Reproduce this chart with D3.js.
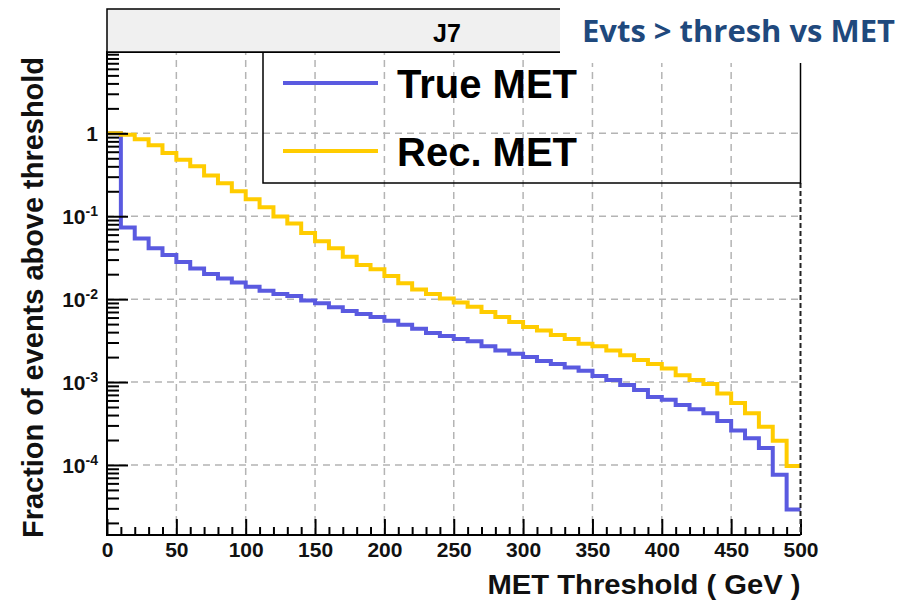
<!DOCTYPE html>
<html>
<head>
<meta charset="utf-8">
<script src="https://cdn.jsdelivr.net/npm/d3@7/dist/d3.min.js"></script>
<style>
  body { margin: 0; background: #fff; }
  svg text { font-family: "Liberation Sans", Arial, Helvetica, sans-serif; font-weight: bold; }
</style>
</head>
<body>
<svg id="chart" width="901" height="600"></svg>
<script>
// Lower edges of the 10 GeV threshold bins
const binLow = [0, 10, 20, 30, 40, 50, 60, 70, 80, 90,
  100, 110, 120, 130, 140, 150, 160, 170, 180, 190,
  200, 210, 220, 230, 240, 250, 260, 270, 280, 290,
  300, 310, 320, 330, 340, 350, 360, 370, 380, 390,
  400, 410, 420, 430, 440, 450, 460, 470, 480, 490];
const binHigh = 500;

// Fraction of events above threshold, true MET
const trueMet = [1.0, 0.073, 0.054, 0.041, 0.034, 0.028, 0.0235, 0.0201, 0.0178, 0.0159,
  0.0141, 0.0126, 0.0115, 0.0109, 0.0096, 0.0089, 0.0080, 0.0072, 0.0066, 0.0061,
  0.0055, 0.0049, 0.0044, 0.0039, 0.0036, 0.0033, 0.0031, 0.0027, 0.0024, 0.0022,
  0.0020, 0.0018, 0.00165, 0.0015, 0.00137, 0.00118, 0.00106, 0.00092, 0.00080, 0.00066,
  0.00061, 0.00053, 0.00047, 0.00042, 0.00034, 0.00026, 0.00021, 0.00016, 0.000076, 0.000029];

// Fraction of events above threshold, reconstructed MET
const recMet = [1.0, 0.96, 0.85, 0.72, 0.58, 0.48, 0.40, 0.31, 0.25, 0.20,
  0.16, 0.128, 0.099, 0.082, 0.063, 0.050, 0.041, 0.0325, 0.0258, 0.0229,
  0.019, 0.0155, 0.0131, 0.0115, 0.0102, 0.0091, 0.0081, 0.0070, 0.0061, 0.0053,
  0.0046, 0.0042, 0.0037, 0.0033, 0.0029, 0.0027, 0.0024, 0.0021, 0.00184, 0.00165,
  0.00146, 0.00121, 0.00106, 0.00095, 0.00073, 0.00056, 0.00042, 0.00029, 0.000196, 0.000097];

const seriesNames = ["True MET", "Rec. MET"];
const xMajorTicks = [0, 50, 100, 150, 200, 250, 300, 350, 400, 450, 500];
const yMajorTicks = [1, 0.1, 0.01, 0.001, 0.0001];
const yTickExponents = ["0", "-1", "-2", "-3", "-4"];
const xTitle = "MET Threshold ( GeV )";
const yTitle = "Fraction of events above threshold";
const padTitle = "J7";
const slideTitle = "Evts > thresh vs MET";

const colors = { trueMet: "#5a5ae0", recMet: "#ffcc00" };

const frame = { left: 107, right: 800.5, top: 52, bottom: 535 };
const svg = d3.select("#chart");

const x = d3.scaleLinear().domain([0, 500]).range([frame.left, frame.right]);
const y = d3.scaleLog().domain([1.43e-5, 9.57]).range([frame.bottom, frame.top]);

svg.append("rect").attr("width", 901).attr("height", 600).attr("fill", "#fff");

// Dashed grid
const grid = svg.append("g").attr("stroke", "#b4b4b4").attr("stroke-width", 1.5)
  .attr("stroke-dasharray", "7,5").attr("fill", "none");
grid.selectAll("line.v").data(xMajorTicks.filter(d => d > 0 && d < 500)).join("line")
  .attr("x1", d => x(d)).attr("x2", d => x(d))
  .attr("y1", frame.bottom).attr("y2", frame.top);
grid.selectAll("line.h").data(yMajorTicks).join("line")
  .attr("y1", d => y(d)).attr("y2", d => y(d))
  .attr("x1", frame.left).attr("x2", frame.right);

// Step histograms
const stepLine = d3.line().x(d => x(d[0])).y(d => y(d[1])).curve(d3.curveStepAfter);
function stepPoints(vals) {
  const pts = binLow.map((b, i) => [b, vals[i]]);
  pts.push([binHigh, vals[vals.length - 1]]);
  return pts;
}
svg.append("path").datum(stepPoints(trueMet)).attr("d", stepLine)
  .attr("fill", "none").attr("stroke", colors.trueMet).attr("stroke-width", 4);
svg.append("path").datum(stepPoints(recMet)).attr("d", stepLine)
  .attr("fill", "none").attr("stroke", colors.recMet).attr("stroke-width", 4);

// X axis: major and minor ticks pointing into the frame
const xAxisG = svg.append("g").attr("transform", `translate(0,${frame.bottom})`);
xAxisG.call(d3.axisBottom(x).tickValues(xMajorTicks).tickSize(-16).tickPadding(7)
  .tickFormat(d3.format("d")));
const xMinor = svg.append("g").attr("transform", `translate(0,${frame.bottom})`);
xMinor.call(d3.axisBottom(x).tickValues(binLow.filter(d => d % 50 !== 0)).tickSize(-8).tickFormat(""));
[xAxisG, xMinor].forEach(g => {
  g.select(".domain").remove();
  g.selectAll("line").attr("stroke", "#000").attr("stroke-width", 2);
});
xAxisG.selectAll("text").style("font-size", "21px").attr("fill", "#111");

// Y axis (log): decades and minor ticks
const yAxisG = svg.append("g").attr("transform", `translate(${frame.left},0)`);
yAxisG.call(d3.axisLeft(y).tickValues(yMajorTicks).tickSize(-21).tickPadding(9).tickFormat(""));
const yMinorVals = y.ticks().filter(d => Math.abs(Math.log10(d) - Math.round(Math.log10(d))) > 1e-6);
const yMinor = svg.append("g").attr("transform", `translate(${frame.left},0)`);
yMinor.call(d3.axisLeft(y).tickValues(yMinorVals).tickSize(-12).tickFormat(""));
[yAxisG, yMinor].forEach(g => {
  g.select(".domain").remove();
  g.selectAll("line").attr("stroke", "#000").attr("stroke-width", 2);
});
yAxisG.selectAll(".tick text").each(function (d, i) {
  const t = d3.select(this).style("font-size", "21px").attr("fill", "#111").attr("dy", "0.36em");
  if (yTickExponents[i] === "0") {
    t.text("1");
  } else {
    t.text("");
    t.append("tspan").text("10");
    t.append("tspan").style("font-size", "14px").attr("dy", -8.5).text(yTickExponents[i]);
  }
});

// Frame: solid left, bottom and top edges, dashed right edge
svg.append("path")
  .attr("d", `M${frame.right},${frame.top}H${frame.left}V${frame.bottom}H${frame.right}`)
  .attr("fill", "none").attr("stroke", "#000").attr("stroke-width", 2);
svg.append("line").attr("x1", frame.right).attr("x2", frame.right)
  .attr("y1", 183).attr("y2", frame.bottom)
  .attr("stroke", "#222").attr("stroke-width", 2).attr("stroke-dasharray", "5,3");

// Legend
const legend = svg.append("g");
legend.append("rect").attr("x", 263).attr("y", frame.top).attr("width", frame.right - 263).attr("height", 131)
  .attr("fill", "none").attr("stroke", "#000").attr("stroke-width", 1.5);
const legendRows = [
  { name: seriesNames[0], color: colors.trueMet, cy: 83 },
  { name: seriesNames[1], color: colors.recMet, cy: 151 }
];
legendRows.forEach(r => {
  legend.append("line").attr("x1", 283).attr("x2", 378).attr("y1", r.cy).attr("y2", r.cy)
    .attr("stroke", r.color).attr("stroke-width", 4);
  legend.append("text").attr("x", 397).attr("y", r.cy + 15).style("font-size", "40px")
    .attr("fill", "#000").text(r.name);
});

// Pad title box
svg.append("rect").attr("x", frame.left).attr("y", 9).attr("width", 680).attr("height", 43)
  .attr("fill", "#f0f0f0").attr("stroke", "#000").attr("stroke-width", 1.5);
svg.append("text").attr("x", 447).attr("y", 42).attr("text-anchor", "middle")
  .style("font-size", "25px").attr("fill", "#000").text(padTitle);

// Axis titles
svg.append("text").attr("x", frame.right).attr("y", 594).attr("text-anchor", "end")
  .style("font-size", "28px").attr("fill", "#111")
  .attr("textLength", 313).attr("lengthAdjust", "spacingAndGlyphs").text(xTitle);
svg.append("text").attr("transform", "translate(43,538) rotate(-90)")
  .style("font-size", "29px").attr("fill", "#111")
  .attr("textLength", 481).attr("lengthAdjust", "spacingAndGlyphs").text(yTitle);

// Slide heading on a white panel
svg.append("rect").attr("x", 560).attr("y", 0).attr("width", 341).attr("height", 63).attr("fill", "#fff");
svg.append("text").attr("x", 582).attr("y", 42)
  .style("font-family", "'Open Sans', Lato, sans-serif").style("font-weight", "bold")
  .style("font-size", "30px").attr("fill", "#1f497d")
  .attr("textLength", 313).attr("lengthAdjust", "spacingAndGlyphs").text(slideTitle);
</script>
</body>
</html>
